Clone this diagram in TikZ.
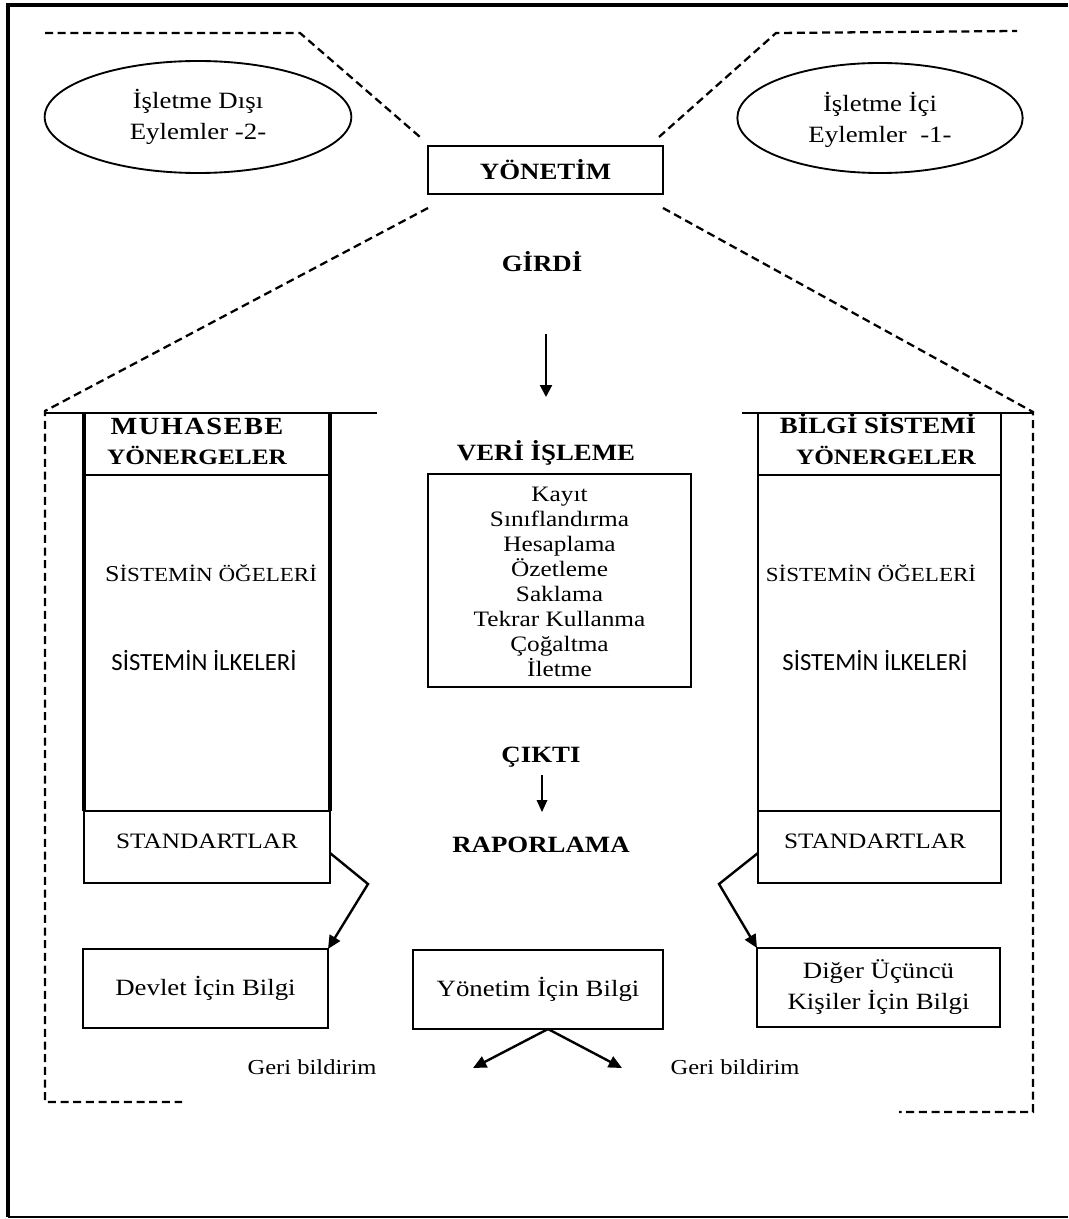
\documentclass[tikz,border=0pt]{standalone}
\usepackage{fontspec}
\setmainfont{Liberation Serif}[FakeStretch=1.15]
\newfontfamily\calibfont{Carlito}
\usetikzlibrary{shapes.geometric,arrows.meta,calc}
\tikzset{
  every node/.style={inner sep=0pt,outer sep=0pt},
  txt/.style={font=\fontsize{17.5}{23.25}\selectfont,align=center},
  hd/.style={font=\fontsize{17.5}{21}\selectfont\bfseries,align=center},
  boxed/.style={draw,line width=1.5pt},
  colbox/.style={draw,line width=1.5pt,minimum width=184.5pt},
  rcolbox/.style={draw,line width=1.5pt,minimum width=182.25pt},
  dsh/.style={dash pattern=on 6pt off 3.5pt,line width=1.7pt},
  oval/.style={draw,ellipse,line width=1.4pt},
  arr/.style={line width=1.6pt,-{Triangle[width=9pt,length=9pt]}},
  sarr/.style={line width=0.9pt,-{Triangle[width=8pt,length=9pt]}},
  barr/.style={line width=1.8pt,-{Triangle[width=9pt,length=10pt]}}
}
\begin{document}
\begin{tikzpicture}[x=0.75pt,y=-0.75pt]
\useasboundingbox (0,0) rectangle (1068,1219);
% outer frame
\draw[line width=3pt] (1068,5) -- (8,5) -- (8,1217);
\draw[line width=1.4pt] (8,1217) -- (1068,1217);

% ellipses
\node[oval,minimum width=230pt,minimum height=84pt] (ext) at (198,117) {};
\node[txt] (extt) at (198,117) {İşletme Dışı\\Eylemler -2-};
\node[oval,minimum width=214pt,minimum height=82.5pt] (int) at (880,118) {};
\node[txt] (intt) at (880,120) {İşletme İçi\\Eylemler~ -1-};

% management
\node[boxed,minimum width=176pt,minimum height=36pt,hd] (yon) at (545.5,170) {YÖNETİM};

% dashed lines
\coordinate (d1) at (45,33); \coordinate (d2) at (300,33); \coordinate (d3) at (420,137);
\draw[dsh] (d1) -- (d2) -- (d3);
\coordinate (d4) at (659,137); \coordinate (d5) at (776,33); \coordinate (d6) at (1017,31);
\draw[dsh] (d4) -- (d5) -- (d6);
\coordinate (d7) at (428,208); \coordinate (d8) at (45,411); \coordinate (d9) at (45,1102); \coordinate (d10) at (182,1102);
\draw[dsh] (d7) -- (d8) -- (d9) -- (d10);
\coordinate (d11) at (663,208); \coordinate (d12) at (1033,412); \coordinate (d13) at (1033,1112); \coordinate (d14) at (899,1112);
\draw[dsh] (d11) -- (d12) -- (d13) -- (d14);

% center column
\node[hd] (girdi) at (542,262) {GİRDİ};
\coordinate (a1) at (546,334); \coordinate (a2) at (546,397);
\draw[arr] (a1) -- (a2);
\node[hd] (veri) at (546,453) {VERİ İŞLEME};
\node[boxed,minimum width=197pt,minimum height=160pt] (proc) at (559.5,580.5) {};
\node[font=\fontsize{16.5}{18.75}\selectfont,align=center] (proct) at (559.5,582) {Kayıt\\Sınıflandırma\\Hesaplama\\Özetleme\\Saklama\\Tekrar Kullanma\\Çoğaltma\\İletme};
\node[hd] (cikti) at (541,757) {ÇIKTI};
\coordinate (a3) at (542,775); \coordinate (a4) at (542,812);
\draw[sarr] (a3) -- (a4);
\node[hd] (rap) at (541,845) {RAPORLAMA};

% left column
\coordinate (lt1) at (45,413); \coordinate (lt2) at (377,413);
\draw[line width=1.5pt] (lt1) -- (lt2);
\node[colbox,minimum height=46.5pt] (lhead) at (207,444) {};
\node[colbox,minimum height=252pt] (lbody) at (207,643) {};
\node[colbox,minimum height=54pt] (lstd) at (207,847) {};
\draw[line width=3pt] (lhead.north west) -- (lbody.south west);
\draw[line width=3pt] (lhead.north east) -- (lbody.south east);
\begin{scope}
\clip (84,414.5) rectangle (330,475);
\node[hd,font=\fontsize{18.5}{21}\selectfont\bfseries\addfontfeature{LetterSpace=6}] (muh) at (197,426) {MUHASEBE};
\end{scope}
\node[hd,font=\fontsize{16.5}{20}\selectfont\bfseries] (lyon) at (197,455) {YÖNERGELER};
\node[font=\fontsize{15}{18}\selectfont] (loge) at (211,573) {{\fontsize{17}{18}\selectfont S}İSTEMİN ÖĞELERİ};
\node[font=\fontsize{18.5}{20}\selectfont\calibfont] (lilk) at (204,661) {SİSTEMİN İLKELERİ};
\node[txt,font=\fontsize{16.5}{20}\selectfont] (lstdt) at (207,841) {STANDARTLAR};

% right column
\coordinate (rt1) at (742,413); \coordinate (rt2) at (1033,413);
\draw[line width=1.5pt] (rt1) -- (rt2);
\node[rcolbox,minimum height=46.5pt] (rhead) at (879.5,444) {};
\node[rcolbox,minimum height=252pt] (rbody) at (879.5,643) {};
\node[rcolbox,minimum height=54pt] (rstd) at (879.5,847) {};
\begin{scope}
\clip (758,414.5) rectangle (1001,475);
\node[hd] (bilgi) at (878,424) {BİLGİ SİSTEMİ};
\end{scope}
\node[hd,font=\fontsize{16.5}{20}\selectfont\bfseries] (ryon) at (886,455) {YÖNERGELER};
\node[font=\fontsize{15}{18}\selectfont] (roge) at (871,573) {SİSTEMİN ÖĞELERİ};
\node[font=\fontsize{18.5}{20}\selectfont\calibfont] (rilk) at (875,661) {SİSTEMİN İLKELERİ};
\node[txt,font=\fontsize{16.5}{20}\selectfont] (rstdt) at (875,841) {STANDARTLAR};

% bottom boxes
\node[boxed,txt,minimum width=183.75pt,minimum height=59.25pt] (dev) at (205.5,988.5) {Devlet İçin Bilgi};
\node[boxed,txt,minimum width=187.5pt,minimum height=59.25pt] (yib) at (538,989.5) {Yönetim İçin Bilgi};
\node[boxed,txt,minimum width=182.25pt,minimum height=59.25pt] (dig) at (878.5,987.5) {Diğer Üçüncü\\Kişiler İçin Bilgi};

% bent arrows
\coordinate (lb) at (368,884);
\draw[barr] ($(lstd.east)+(0,6)$) -- (lb) -- (dev.north east);
\coordinate (rb) at (719,884);
\draw[barr] ($(rstd.west)+(0,6)$) -- (rb) -- (dig.north west);

% feedback
\coordinate (fl) at (473,1068); \coordinate (fr) at (622,1068);
\draw[barr] ($(yib.south)+(10,0)$) -- (fl);
\draw[barr] ($(yib.south)+(10,0)$) -- (fr);
\node[font=\fontsize{16}{20}\selectfont] (gl) at (312,1067) {Geri bildirim};
\node[font=\fontsize{16}{20}\selectfont] (gr) at (735,1067) {Geri bildirim};
\end{tikzpicture}
\end{document}
